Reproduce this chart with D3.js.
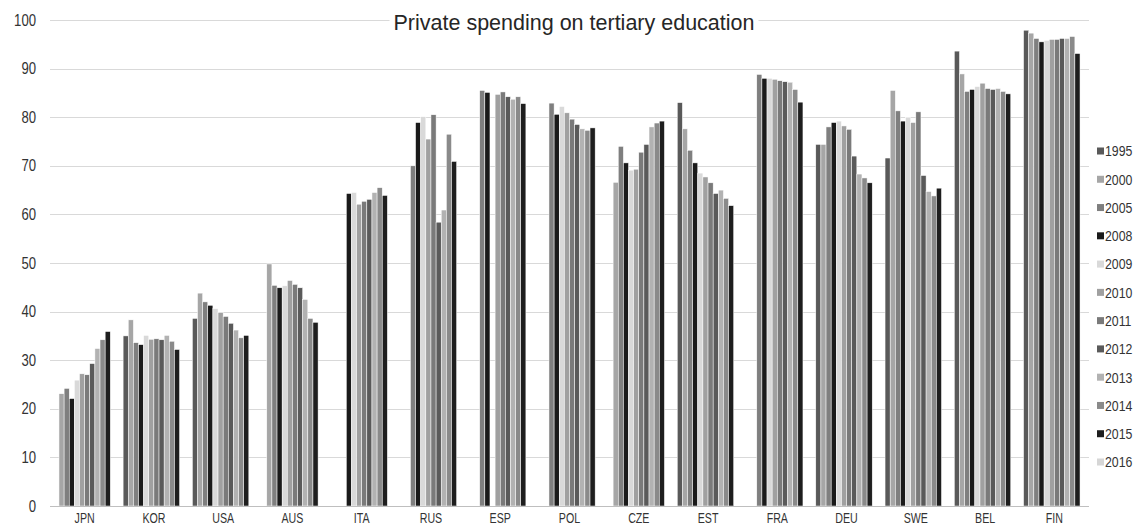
<!DOCTYPE html>
<html>
<head>
<meta charset="utf-8">
<script src="https://cdn.jsdelivr.net/npm/d3@7"></script>
<style>
  html, body { margin: 0; padding: 0; background: #fff; }
  svg { display: block; }
  .narrow { font-family: "Liberation Sans", Arial, sans-serif; }
</style>
</head>
<body>
<svg id="chart" width="1140" height="529"></svg>
<script>
const countries = ["JPN","KOR","USA","AUS","ITA","RUS","ESP","POL","CZE","EST","FRA","DEU","SWE","BEL","FIN"];
const years = ["1995","2000","2005","2008","2009","2010","2011","2012","2013","2014","2015","2016"];
const yTicks = [0,10,20,30,40,50,60,70,80,90,100];

// values per year, in country order (null = no bar)
const v1995 = [null,35.0,38.6,null,null,null,null,null,null,83.0,null,74.4,71.6,93.6,97.9];
const v2000 = [23.1,38.3,43.8,49.8,null,null,null,null,66.6,77.6,null,74.4,85.5,88.9,97.3];
const v2005 = [24.2,33.6,42.0,45.4,null,70.0,85.5,82.9,74.0,73.2,88.8,78.0,81.3,85.3,96.2];
const v2008 = [22.1,33.2,41.3,44.9,64.3,78.9,85.1,80.6,70.6,70.6,88.0,78.9,79.2,85.7,95.5];
const v2009 = [25.9,35.1,40.6,45.3,64.5,80.1,null,82.2,69.1,68.5,88.0,79.2,79.9,86.3,95.8];
const v2010 = [27.2,34.3,39.8,46.4,62.1,75.5,84.7,80.9,69.3,67.7,87.8,78.2,78.9,87.0,96.0];
const v2011 = [27.0,34.4,39.0,45.6,62.7,80.5,85.2,79.6,72.8,66.5,87.5,77.5,81.1,85.9,96.0];
const v2012 = [29.3,34.2,37.6,44.9,63.1,58.4,84.2,78.5,74.4,64.3,87.3,72.0,68.0,85.7,96.2];
const v2013 = [32.4,35.1,36.2,42.5,64.5,60.9,83.7,77.6,78.0,65.0,87.2,68.3,64.7,85.9,96.2];
const v2014 = [34.2,33.9,34.6,38.6,65.5,76.5,84.2,77.3,78.8,63.3,85.7,67.5,63.8,85.3,96.6];
const v2015 = [35.9,32.2,35.1,37.8,63.9,70.9,82.8,77.8,79.2,61.8,83.1,66.5,65.4,84.8,93.1];
const v2016 = [null,null,null,null,null,null,null,null,null,null,null,null,null,null,null];

const seriesValues = [v1995,v2000,v2005,v2008,v2009,v2010,v2011,v2012,v2013,v2014,v2015,v2016];
const seriesColors = ["#595959","#a6a6a6","#7f7f7f","#1a1a1a","#d9d9d9","#a0a0a0","#7a7a7a","#5a5a5a","#b2b2b2","#8a8a8a","#1e1e1e","#d6d6d6"];
const title = "Private spending on tertiary education";

const svg = d3.select("#chart");
const mLeft = 50, mRight = 1089, mTop = 20, mBottom = 506;

function narrow(sel, ratio) {
  sel.each(function() {
    const w = this.getComputedTextLength();
    d3.select(this).attr("textLength", w * ratio).attr("lengthAdjust", "spacingAndGlyphs");
  });
}

const x0 = d3.scaleBand().domain(countries).range([mLeft, mRight]).paddingInner(0).paddingOuter(0);
const x1 = d3.scaleBand().domain(years).range([0, x0.bandwidth()]).paddingInner(0).paddingOuter(0.75);
const y = d3.scaleLinear().domain([0, 100]).range([mBottom, mTop]);

// gridlines
svg.append("g").selectAll("line").data(yTicks.filter(t => t > 0)).join("line")
  .attr("x1", mLeft).attr("x2", mRight)
  .attr("y1", d => Math.round(y(d)) + 0.5).attr("y2", d => Math.round(y(d)) + 0.5)
  .attr("stroke", "#d9d9d9").attr("stroke-width", 1);

// bars
const flat = [];
years.forEach((yr, i) => {
  countries.forEach((c, j) => {
    const v = seriesValues[i][j];
    if (v != null) flat.push({year: yr, country: c, value: v, color: seriesColors[i]});
  });
});
svg.append("g").selectAll("rect").data(flat).join("rect")
  .attr("x", d => x0(d.country) + x1(d.year))
  .attr("width", x1.bandwidth())
  .attr("y", d => y(d.value))
  .attr("height", d => y(0) - y(d.value))
  .attr("fill", d => d.color)
  .attr("stroke", "#ffffff").attr("stroke-width", 0.5);

// baseline
svg.append("line").attr("x1", mLeft).attr("x2", mRight)
  .attr("y1", Math.round(y(0)) + 0.5).attr("y2", Math.round(y(0)) + 0.5)
  .attr("stroke", "#bfbfbf").attr("stroke-width", 1);

// y labels
const yAxis = d3.axisLeft(y).tickValues(yTicks).tickSize(0).tickPadding(0);
const gy = svg.append("g").attr("transform", `translate(${mLeft - 14},0)`).call(yAxis);
gy.select(".domain").remove();
gy.selectAll("text").attr("class", "narrow").attr("font-family", null)
  .attr("font-size", 16).attr("fill", "#333333");
narrow(gy.selectAll("text"), 0.82);

// x labels
const xAxis = d3.axisBottom(x0).tickSize(0).tickPadding(0);
const gx = svg.append("g").attr("transform", `translate(0,${mBottom + 7})`).call(xAxis);
gx.select(".domain").remove();
gx.selectAll("text").attr("class", "narrow").attr("font-size", 14).attr("fill", "#333333");
narrow(gx.selectAll("text"), 0.76);

// title with white backing
const tg = svg.append("g");
const tt = tg.append("text").attr("x", 574).attr("y", 30).attr("text-anchor", "middle")
  .attr("font-family", "'Liberation Sans', Arial, sans-serif").attr("font-size", 21.5)
  .attr("fill", "#262626").text(title);
const bb = tt.node().getBBox();
tg.insert("rect", "text").attr("x", bb.x - 4).attr("y", bb.y).attr("width", bb.width + 8)
  .attr("height", bb.height).attr("fill", "#fff");

// legend
const lg = svg.append("g");
const ly = d3.scalePoint().domain(years).range([151, 462]);
years.forEach((yr, i) => {
  lg.append("rect").attr("x", 1097).attr("y", ly(yr) - 3.5).attr("width", 7).attr("height", 7)
    .attr("fill", seriesColors[i]);
  const t = lg.append("text").attr("class", "narrow").attr("x", 1105).attr("y", ly(yr)).attr("dy", "0.36em")
    .attr("font-size", 15).attr("fill", "#333333").text(yr);
  narrow(t, 0.82);
});
</script>
</body>
</html>
